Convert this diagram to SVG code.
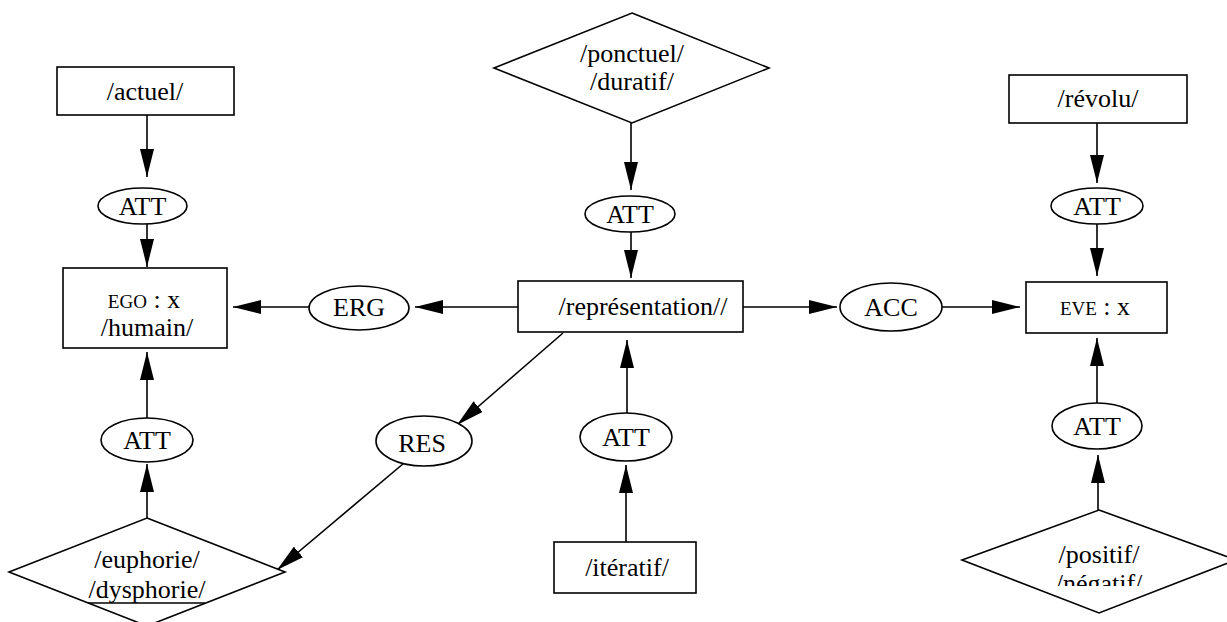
<svg xmlns="http://www.w3.org/2000/svg" width="1227" height="622" viewBox="0 0 1227 622">
<style>
.s{fill:#fff;stroke:#000;stroke-width:1.6}
.t{font-family:"Liberation Serif","Times New Roman",serif;font-size:26px;fill:#000;text-anchor:middle}
.sc{font-size:19px}
.c line{stroke:#000;stroke-width:1.6}
</style>
<defs>
<marker id="a" markerUnits="userSpaceOnUse" markerWidth="28" markerHeight="14" refX="28" refY="7" orient="auto">
<path d="M0,0 L28,7 L0,14 z" fill="#000"/>
</marker>
<clipPath id="clipR"><rect x="900" y="480" width="327" height="106"/></clipPath>
</defs>
<rect width="1227" height="622" fill="#fff"/>
<g class="c" marker-end="url(#a)">
<line x1="147" y1="115" x2="147" y2="177" marker-end="url(#a)"/>
<line x1="147" y1="224" x2="147" y2="267" marker-end="url(#a)"/>
<line x1="309" y1="307" x2="233" y2="307" marker-end="url(#a)"/>
<line x1="518" y1="307" x2="415" y2="307" marker-end="url(#a)"/>
<line x1="743" y1="307" x2="837" y2="307" marker-end="url(#a)"/>
<line x1="942" y1="307" x2="1020" y2="307" marker-end="url(#a)"/>
<line x1="1097" y1="123" x2="1097" y2="183" marker-end="url(#a)"/>
<line x1="1097" y1="224" x2="1097" y2="276" marker-end="url(#a)"/>
<line x1="631" y1="123" x2="631" y2="190" marker-end="url(#a)"/>
<line x1="631" y1="232" x2="631" y2="278" marker-end="url(#a)"/>
<line x1="627" y1="413" x2="627" y2="340" marker-end="url(#a)"/>
<line x1="626" y1="542" x2="626" y2="465" marker-end="url(#a)"/>
<line x1="563" y1="333" x2="457" y2="425" marker-end="url(#a)"/>
<line x1="410" y1="458" x2="277" y2="570" marker-end="url(#a)"/>
<line x1="147" y1="418" x2="147" y2="352" marker-end="url(#a)"/>
<line x1="147" y1="518" x2="147" y2="464" marker-end="url(#a)"/>
<line x1="1097" y1="403" x2="1097" y2="338" marker-end="url(#a)"/>
<line x1="1098" y1="510" x2="1098" y2="455" marker-end="url(#a)"/>
</g>
<g id="actuel"><rect class="s" x="57" y="67" width="177" height="48"/><text class="t" x="145" y="100">/actuel/</text></g>
<g id="att1"><ellipse class="s" cx="142.5" cy="206" rx="44.5" ry="18"/><text class="t" x="142.5" y="215">ATT</text></g>
<g id="ego"><rect class="s" x="63" y="268" width="164" height="80"/><text class="t" x="144" y="308"><tspan class="sc">EGO</tspan> : x</text><text class="t" x="147" y="336">/humain/</text></g>
<g id="erg"><ellipse class="s" cx="359" cy="308" rx="50" ry="22"/><text class="t" x="359" y="316">ERG</text></g>
<g id="rep"><rect class="s" x="518" y="281" width="225" height="51"/><text class="t" x="643" y="315">/représentation//</text></g>
<g id="acc"><ellipse class="s" cx="891" cy="307" rx="51" ry="24"/><text class="t" x="891" y="316">ACC</text></g>
<g id="eve"><rect class="s" x="1026" y="282" width="141" height="51"/><text class="t" x="1095" y="315"><tspan class="sc">EVE</tspan> : x</text></g>
<g id="revolu"><rect class="s" x="1009" y="75" width="178" height="48"/><text class="t" x="1098" y="107">/révolu/</text></g>
<g id="att2"><ellipse class="s" cx="1097" cy="206" rx="46" ry="18"/><text class="t" x="1097" y="215">ATT</text></g>
<g id="ponctuel"><polygon class="s" points="632,13 769,68 632,123 494,68"/><text class="t" x="632" y="62">/ponctuel/</text><text class="t" x="632" y="90">/duratif/</text></g>
<g id="att3"><ellipse class="s" cx="630" cy="214" rx="45" ry="18"/><text class="t" x="630" y="223">ATT</text></g>
<g id="att4"><ellipse class="s" cx="626" cy="437" rx="46" ry="24"/><text class="t" x="626" y="446">ATT</text></g>
<g id="iteratif"><rect class="s" x="554" y="542" width="142" height="51"/><text class="t" x="627" y="576">/itératif/</text></g>
<g id="res"><ellipse class="s" cx="424" cy="441" rx="48" ry="25"/><text class="t" x="422" y="452">RES</text></g>
<g id="att5"><ellipse class="s" cx="147" cy="440" rx="46" ry="22"/><text class="t" x="147" y="449">ATT</text></g>
<g id="euphorie"><polygon class="s" points="147,518 285,572 147,626 9,572"/><text class="t" x="147" y="568">/euphorie/</text><text class="t" x="147" y="598">/dysphorie/</text><line x1="88" y1="603" x2="205" y2="603" stroke="#000" stroke-width="1.6"/></g>
<g id="att6"><ellipse class="s" cx="1097" cy="426" rx="45" ry="23"/><text class="t" x="1097" y="435">ATT</text></g>
<g id="positif"><polygon class="s" points="1099,510 1236,560 1099,613 962,560"/><text class="t" x="1099" y="563">/positif/</text><text class="t" x="1099" y="592" clip-path="url(#clipR)">/négatif/</text></g>
</svg>
